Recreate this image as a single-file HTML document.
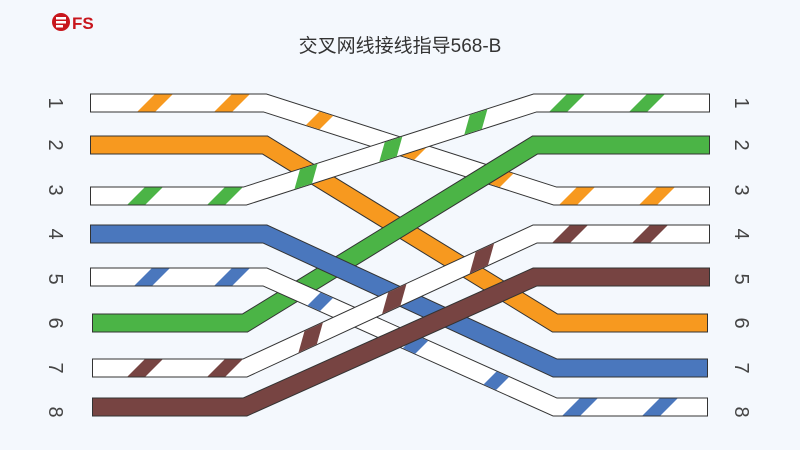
<!DOCTYPE html>
<html><head><meta charset="utf-8"><style>
body{margin:0;width:800px;height:450px;background:#f4f8fd;overflow:hidden;font-family:"Liberation Sans","Noto Sans CJK SC",sans-serif}
</style></head><body>
<svg width="800" height="450" xmlns="http://www.w3.org/2000/svg" style="position:absolute;left:0;top:0">
<defs>
<mask id="m1" maskUnits="userSpaceOnUse" x="0" y="0" width="800" height="450"><polyline fill="none" points="91,103 265,103 555,196 709,196" stroke="#fff" stroke-width="17"/></mask>
<mask id="m3" maskUnits="userSpaceOnUse" x="0" y="0" width="800" height="450"><polyline fill="none" points="91,196 245,196 535,103 709,103" stroke="#fff" stroke-width="17"/></mask>
<mask id="m5" maskUnits="userSpaceOnUse" x="0" y="0" width="800" height="450"><polyline fill="none" points="91,277 265,277 555,407 707,407" stroke="#fff" stroke-width="17"/></mask>
<mask id="m7" maskUnits="userSpaceOnUse" x="0" y="0" width="800" height="450"><polyline fill="none" points="93,368 245,368 535,234 709,234" stroke="#fff" stroke-width="17"/></mask>
</defs>
<circle cx="61" cy="22" r="9" fill="#c8161d"/>
<rect x="56" y="17" width="10" height="2.5" fill="#fff"/><rect x="56" y="21" width="10" height="2.5" fill="#fff"/><rect x="56" y="25" width="7" height="2.5" fill="#fff"/>
<text x="72" y="29" font-size="17" font-weight="bold" fill="#c8161d" font-family="Liberation Sans,sans-serif">FS</text>
<text x="400" y="52" text-anchor="middle" font-size="19" fill="#333" font-family="Liberation Sans,Noto Sans CJK SC,sans-serif">交叉网线接线指导568-B</text>
<g font-size="20" fill="#444" font-family="Liberation Sans,sans-serif" text-anchor="middle">
<g transform="translate(56,103) rotate(90)"><text y="7">1</text></g>
<g transform="translate(56,145) rotate(90)"><text y="7">2</text></g>
<g transform="translate(56,190) rotate(90)"><text y="7">3</text></g>
<g transform="translate(56,234) rotate(90)"><text y="7">4</text></g>
<g transform="translate(56,279) rotate(90)"><text y="7">5</text></g>
<g transform="translate(56,323) rotate(90)"><text y="7">6</text></g>
<g transform="translate(56,368) rotate(90)"><text y="7">7</text></g>
<g transform="translate(56,412) rotate(90)"><text y="7">8</text></g>
<g transform="translate(742,103) rotate(90)"><text y="7">1</text></g>
<g transform="translate(742,145) rotate(90)"><text y="7">2</text></g>
<g transform="translate(742,190) rotate(90)"><text y="7">3</text></g>
<g transform="translate(742,234) rotate(90)"><text y="7">4</text></g>
<g transform="translate(742,279) rotate(90)"><text y="7">5</text></g>
<g transform="translate(742,323) rotate(90)"><text y="7">6</text></g>
<g transform="translate(742,368) rotate(90)"><text y="7">7</text></g>
<g transform="translate(742,412) rotate(90)"><text y="7">8</text></g>
</g>
<g fill="none" stroke-linejoin="miter">
<polyline points="90,145 265,145 555,323 708,323" stroke="#333" stroke-width="19"/>
<polyline points="91,145 265,145 555,323 707,323" stroke="#f7991f" stroke-width="17"/>
<polyline points="90,103 265,103 555,196 710,196" stroke="#333" stroke-width="19"/>
<polyline points="91,103 265,103 555,196 709,196" stroke="#fff" stroke-width="17"/>
</g>
<g mask="url(#m1)" fill="#f7991f">
<polygon points="121,128 139,128 189,78 171,78"/>
<polygon points="198,128 216,128 266,78 248,78"/>
<polygon points="286,145 304,145 354,95 336,95"/>
<polygon points="381,175 399,175 449,125 431,125"/>
<polygon points="466,203 484,203 534,153 516,153"/>
<polygon points="543,221 561,221 611,171 593,171"/>
<polygon points="623,221 641,221 691,171 673,171"/>
</g>
<g fill="none">
<polyline points="92,323 245,323 535,145 710,145" stroke="#333" stroke-width="19"/>
<polyline points="93,323 245,323 535,145 709,145" stroke="#4bb446" stroke-width="17"/>
<polyline points="90,196 245,196 535,103 710,103" stroke="#333" stroke-width="19"/>
<polyline points="91,196 245,196 535,103 709,103" stroke="#fff" stroke-width="17"/>
</g>
<g mask="url(#m3)" fill="#4bb446">
<polygon points="111,221 129,221 179,171 161,171"/>
<polygon points="191,221 209,221 259,171 241,171"/>
<polygon points="290,205 306,205 320,155 304,155"/>
<polygon points="375,177 391,177 405,127 389,127"/>
<polygon points="460,150 476,150 490,100 474,100"/>
<polygon points="533,128 551,128 601,78 583,78"/>
<polygon points="613,128 631,128 681,78 663,78"/>
</g>
<g fill="none">
<polyline points="90,234 265,234 555,368 708,368" stroke="#333" stroke-width="19"/>
<polyline points="91,234 265,234 555,368 707,368" stroke="#4a77bd" stroke-width="17"/>
<polyline points="90,277 265,277 555,407 708,407" stroke="#333" stroke-width="19"/>
<polyline points="91,277 265,277 555,407 707,407" stroke="#fff" stroke-width="17"/>
</g>
<g mask="url(#m5)" fill="#4a77bd">
<polygon points="118,302 136,302 186,252 168,252"/>
<polygon points="198,302 216,302 266,252 248,252"/>
<polygon points="286,327 304,327 354,277 336,277"/>
<polygon points="381,370 399,370 449,320 431,320"/>
<polygon points="461,407 479,407 529,357 511,357"/>
<polygon points="546,432 564,432 614,382 596,382"/>
<polygon points="626,432 644,432 694,382 676,382"/>
</g>
<g fill="none">
<polyline points="92,368 245,368 535,234 710,234" stroke="#333" stroke-width="19"/>
<polyline points="93,368 245,368 535,234 709,234" stroke="#fff" stroke-width="17"/>
</g>
<g mask="url(#m7)" fill="#774442">
<polygon points="111,393 129,393 179,343 161,343"/>
<polygon points="191,393 209,393 259,343 241,343"/>
<polygon points="295,365 311,365 325,315 309,315"/>
<polygon points="379,325 395,325 409,275 393,275"/>
<polygon points="467,283 483,283 497,233 481,233"/>
<polygon points="536,259 554,259 604,209 586,209"/>
<polygon points="616,259 634,259 684,209 666,209"/>
</g>
<g fill="none">
<polyline points="92,407 245,407 535,277 710,277" stroke="#333" stroke-width="19"/>
<polyline points="93,407 245,407 535,277 709,277" stroke="#774442" stroke-width="17"/>
</g>
</svg>
</body></html>
